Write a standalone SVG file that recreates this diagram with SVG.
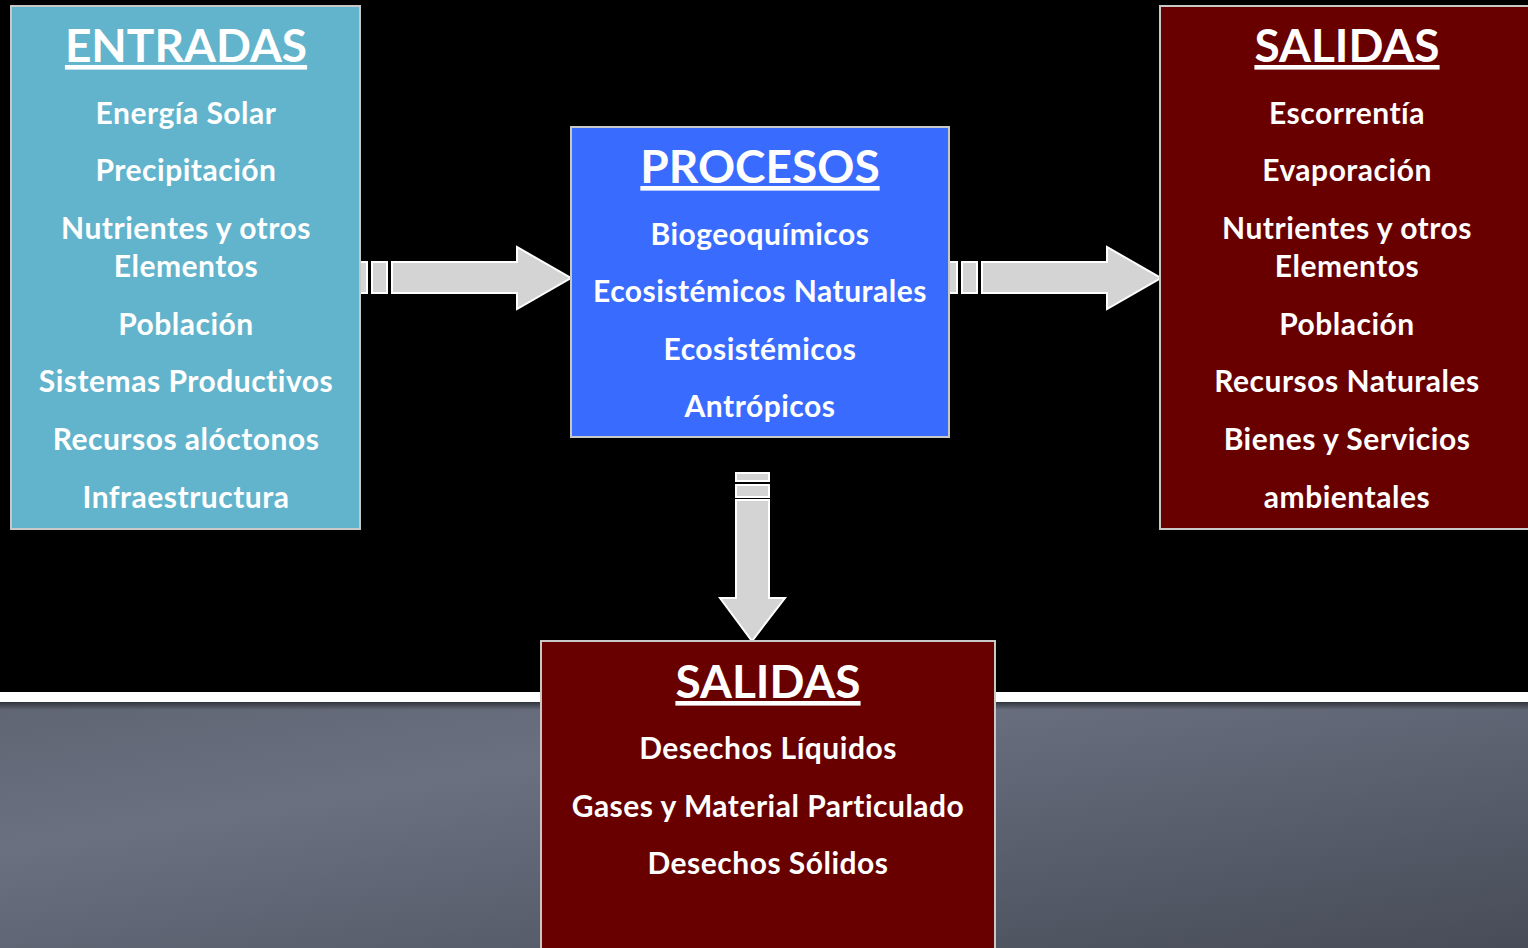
<svg xmlns="http://www.w3.org/2000/svg" width="1528" height="948" viewBox="0 0 1528 948">
<defs>
<linearGradient id="floor" x1="0" y1="0" x2="1" y2="1" gradientUnits="objectBoundingBox">
<stop offset="0" stop-color="#5f6572"/>
<stop offset="0.3" stop-color="#6a7080"/>
<stop offset="1" stop-color="#474c58"/>
</linearGradient>
<linearGradient id="shadow" x1="0" y1="0" x2="0" y2="1">
<stop offset="0" stop-color="#30333a" stop-opacity="1"/>
<stop offset="1" stop-color="#30333a" stop-opacity="0"/>
</linearGradient>
<style>
.box{stroke:#c8c8c8;stroke-width:2}
.arrow{fill:#d4d4d4;stroke:#ffffff;stroke-width:2}
text{font-family:"Lato","Open Sans","Liberation Sans",sans-serif;fill:#ffffff;text-anchor:middle}
.t{font-size:46px;font-weight:700;text-decoration:underline}
.i{font-size:30px;font-weight:700;letter-spacing:0.5px}
</style>
</defs>
<rect x="0" y="0" width="1528" height="948" fill="#000000"/>
<rect x="0" y="692" width="1528" height="10" fill="#ffffff"/>
<rect x="0" y="702" width="1528" height="246" fill="url(#floor)"/>
<rect x="0" y="702" width="1528" height="8" fill="url(#shadow)"/>

<g id="connectors">
<g id="arrow-entradas-procesos">
<rect class="arrow" x="357" y="262" width="10" height="31"/>
<rect class="arrow" x="372" y="262" width="15" height="31"/>
<path class="arrow" d="M392,262 H517 V247 L571,278 L517,309 V293 H392 Z"/>
</g>
<g id="arrow-procesos-salidas">
<rect class="arrow" x="947" y="262" width="10" height="31"/>
<rect class="arrow" x="962" y="262" width="15" height="31"/>
<path class="arrow" d="M982,262 H1107 V247 L1161,278 L1107,309 V293 H982 Z"/>
</g>
<g id="arrow-procesos-salidas2">
<rect class="arrow" x="736" y="473" width="33" height="8"/>
<rect class="arrow" x="736" y="485" width="33" height="12"/>
<path class="arrow" d="M736,500 H769 V598 H785 L752,641 L720,598 H736 Z"/>
</g>
</g>

<g id="entradas">
<rect class="box" x="11" y="6" width="349" height="523" fill="#62b4cc"/>
<text class="t" x="186" y="62">ENTRADAS</text>
<text class="i" x="186" y="124">Energía Solar</text>
<text class="i" x="186" y="181">Precipitación</text>
<text class="i" x="186" y="239">Nutrientes y otros</text>
<text class="i" x="186" y="277">Elementos</text>
<text class="i" x="186" y="335">Población</text>
<text class="i" x="186" y="392">Sistemas Productivos</text>
<text class="i" x="186" y="450">Recursos alóctonos</text>
<text class="i" x="186" y="508">Infraestructura</text>
</g>

<g id="procesos">
<rect class="box" x="571" y="127" width="378" height="310" fill="#3a6bff"/>
<text class="t" x="760" y="183">PROCESOS</text>
<text class="i" x="760" y="245">Biogeoquímicos</text>
<text class="i" x="760" y="302">Ecosistémicos Naturales</text>
<text class="i" x="760" y="360">Ecosistémicos</text>
<text class="i" x="760" y="417">Antrópicos</text>
</g>

<g id="salidas-derecha">
<rect class="box" x="1160" y="6" width="372" height="523" fill="#680000"/>
<text class="t" x="1347" y="62">SALIDAS</text>
<text class="i" x="1347" y="124">Escorrentía</text>
<text class="i" x="1347" y="181">Evaporación</text>
<text class="i" x="1347" y="239">Nutrientes y otros</text>
<text class="i" x="1347" y="277">Elementos</text>
<text class="i" x="1347" y="335">Población</text>
<text class="i" x="1347" y="392">Recursos Naturales</text>
<text class="i" x="1347" y="450">Bienes y Servicios</text>
<text class="i" x="1347" y="508">ambientales</text>
</g>

<g id="salidas-abajo">
<rect class="box" x="541" y="641" width="454" height="320" fill="#680000"/>
<text class="t" x="768" y="698">SALIDAS</text>
<text class="i" x="768" y="759">Desechos Líquidos</text>
<text class="i" x="768" y="817">Gases y Material Particulado</text>
<text class="i" x="768" y="874">Desechos Sólidos</text>
</g>
</svg>
